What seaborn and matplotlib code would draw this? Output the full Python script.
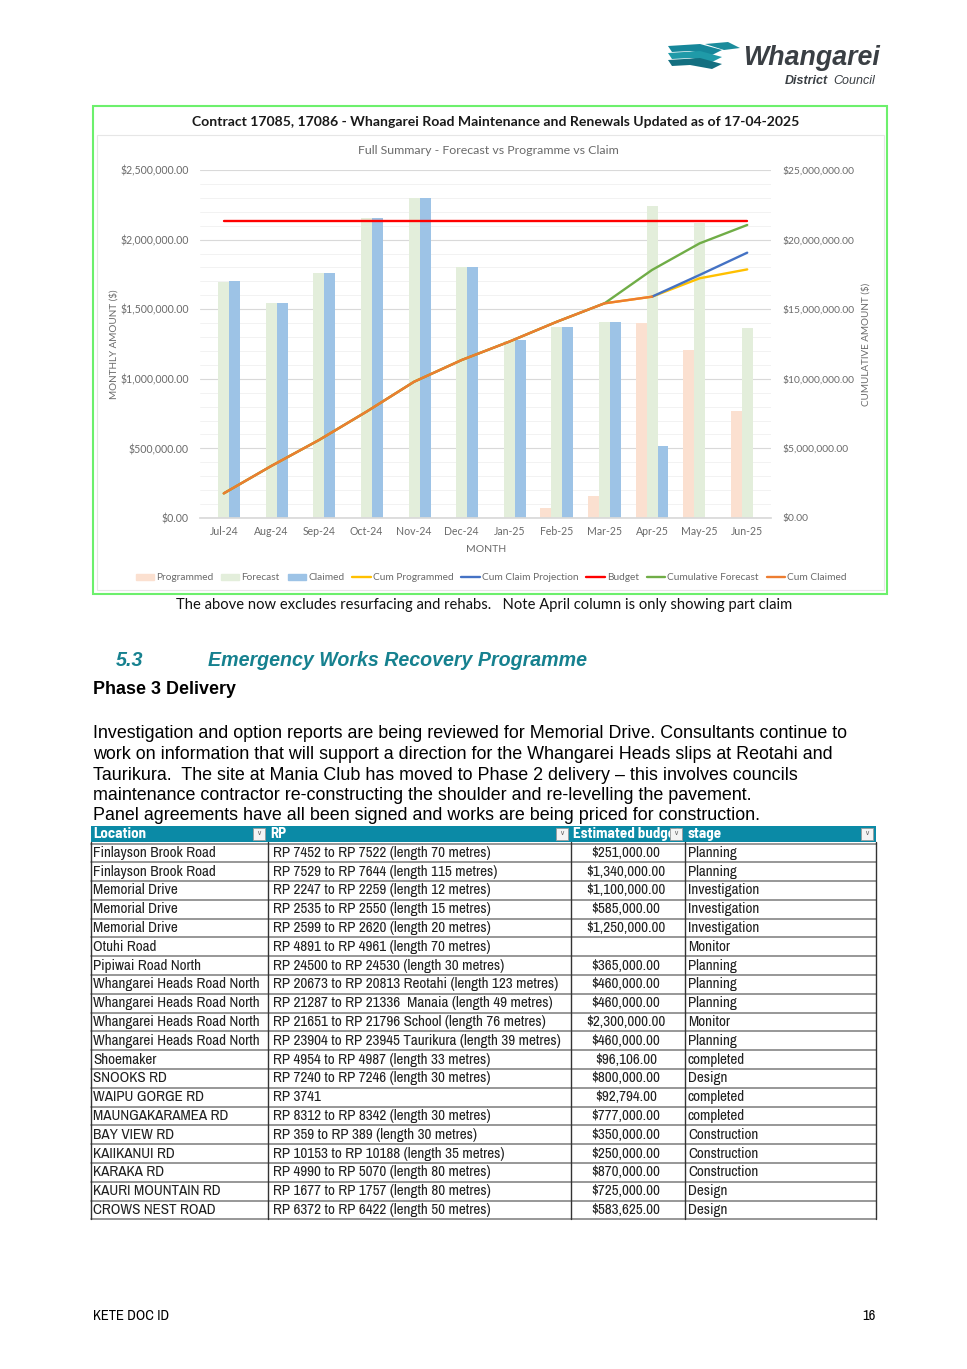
import numpy as np
import pandas as pd
import matplotlib
matplotlib.use("Agg")
import matplotlib.pyplot as plt
import seaborn as sns
from matplotlib.patches import Rectangle, Polygon, Patch
from matplotlib.lines import Line2D
from matplotlib.ticker import FuncFormatter, MultipleLocator
from matplotlib import font_manager

# page size in pixels
W, H = 967, 1369

# chart data
months = ["Jul-24", "Aug-24", "Sep-24", "Oct-24", "Nov-24", "Dec-24",
          "Jan-25", "Feb-25", "Mar-25", "Apr-25", "May-25", "Jun-25"]
programmed = [0, 0, 0, 0, 0, 0, 0, 70000, 158000, 1403000, 1207000, 771000]
forecast = [1697000, 1542000, 1758000, 2153000, 2301000, 1805000,
            1270000, 1374000, 1410000, 2244000, 2117000, 1363000]
claimed = [1700000, 1542000, 1758000, 2153000, 2301000, 1805000,
           1279000, 1374000, 1410000, 520000, np.nan, np.nan]

cum_programmed = [1770000, 3740000, 5600000, 7640000, 9790000, 11350000,
                  12670000, 14100000, 15420000, 15900000, 17220000, 17860000]
cum_projection = [np.nan, np.nan, np.nan, np.nan, np.nan, np.nan,
                  np.nan, np.nan, np.nan, 15900000, 17460000, 19060000]
budget = [21340000, 21340000, 21340000, 21340000, 21340000, 21340000,
          21340000, 21340000, 21340000, 21340000, 21340000, 21340000]
cum_forecast = [1770000, 3740000, 5600000, 7640000, 9790000, 11350000,
                12670000, 14100000, 15420000, 17820000, 19730000, 21050000]
cum_claimed = [1770000, 3740000, 5600000, 7640000, 9790000, 11350000,
               12670000, 14100000, 15420000, 15900000, np.nan, np.nan]

# table data
locations = ["Finlayson Brook Road", "Finlayson Brook Road", "Memorial Drive", "Memorial Drive",
             "Memorial Drive", "Otuhi Road", "Pipiwai Road North", "Whangarei Heads Road North",
             "Whangarei Heads Road North", "Whangarei Heads Road North", "Whangarei Heads Road North",
             "Shoemaker", "SNOOKS RD", "WAIPU GORGE RD", "MAUNGAKARAMEA RD", "BAY VIEW RD",
             "KAIIKANUI RD", "KARAKA RD", "KAURI MOUNTAIN RD", "CROWS NEST ROAD"]
rps = ["RP 7452 to RP 7522 (length 70 metres)", "RP 7529 to RP 7644 (length 115 metres)",
       "RP 2247 to RP 2259 (length 12 metres)", "RP 2535 to RP 2550 (length 15 metres)",
       "RP 2599 to RP 2620 (length 20 metres)", "RP 4891 to RP 4961 (length 70 metres)",
       "RP 24500 to RP 24530 (length 30 metres)", "RP 20673 to RP 20813 Reotahi (length 123 metres)",
       "RP 21287 to RP 21336  Manaia (length 49 metres)", "RP 21651 to RP 21796 School (length 76 metres)",
       "RP 23904 to RP 23945 Taurikura (length 39 metres)", "RP 4954 to RP 4987 (length 33 metres)",
       "RP 7240 to RP 7246 (length 30 metres)", "RP 3741",
       "RP 8312 to RP 8342 (length 30 metres)", "RP 359 to RP 389 (length 30 metres)",
       "RP 10153 to RP 10188 (length 35 metres)", "RP 4990 to RP 5070 (length 80 metres)",
       "RP 1677 to RP 1757 (length 80 metres)", "RP 6372 to RP 6422 (length 50 metres)"]
budgets = ["$251,000.00", "$1,340,000.00", "$1,100,000.00", "$585,000.00", "$1,250,000.00", "",
           "$365,000.00", "$460,000.00", "$460,000.00", "$2,300,000.00", "$460,000.00",
           "$96,106.00", "$800,000.00", "$92,794.00", "$777,000.00", "$350,000.00",
           "$250,000.00", "$870,000.00", "$725,000.00", "$583,625.00"]
stages = ["Planning", "Planning", "Investigation", "Investigation", "Investigation", "Monitor",
          "Planning", "Planning", "Planning", "Monitor", "Planning", "completed", "Design",
          "completed", "completed", "Construction", "Construction", "Construction", "Design",
          "Design"]

paragraph = [
    "Investigation and option reports are being reviewed for Memorial Drive. Consultants continue to",
    "work on information that will support a direction for the Whangarei Heads slips at Reotahi and",
    "Taurikura.  The site at Mania Club has moved to Phase 2 delivery \u2013 this involves councils",
    "maintenance contractor re-constructing the shoulder and re-levelling the pavement.",
    "Panel agreements have all been signed and works are being priced for construction.",
]

sns.set_theme(style="white")
plt.rcParams["font.family"] = ["Liberation Sans", "DejaVu Sans"]

avail = {f.name for f in font_manager.fontManager.ttflist}
NARROW = "Archivo Narrow" if "Archivo Narrow" in avail else "Liberation Sans"
HEAD_FONT = "Barlow Semi Condensed" if "Barlow Semi Condensed" in avail else NARROW
CHART_FONT = "Lato"

fig = plt.figure(figsize=(W / 100, H / 100), dpi=100)
fig.patch.set_facecolor("white")

# background axes in pixel coords
bg = fig.add_axes([0, 0, 1, 1])
bg.set_xlim(0, W)
bg.set_ylim(H, 0)
bg.axis("off")

# logo
teal = "#1b8c9c"
for dy, shade in [(0, "#16879a"), (7, "#1f9aa8"), (14, "#136f80")]:
    bg.add_patch(Polygon([(668, 46 + dy), (700, 44 + dy), (722, 50 + dy), (712, 55 + dy),
                          (690, 51 + dy), (672, 52 + dy)], closed=True, color=shade, lw=0))
bg.add_patch(Polygon([(705, 44), (728, 42), (740, 48), (724, 50)], closed=True, color=teal, lw=0))
bg.text(743, 58, "Whangarei", fontsize=19.3, fontweight="bold", style="italic",
        color="#3a3f44", va="center", ha="left")
bg.text(785, 81, "District", fontsize=9, fontweight="bold", style="italic",
        color="#3a3f44", va="center", ha="left")
bg.text(833, 81, "Council", fontsize=9, style="italic", color="#3a3f44", va="center", ha="left")

# chart frame
bg.add_patch(Rectangle((93, 106), 794, 488, fill=False, edgecolor="#6cf06c", lw=1.5))
bg.add_patch(Rectangle((97, 135), 787, 455, fill=False, edgecolor="#e6e6e6", lw=0.8))
bg.text(496, 122, "Contract 17085, 17086 - Whangarei Road Maintenance and Renewals Updated as of 17-04-2025",
        fontsize=10.1, fontweight="bold", family=CHART_FONT, color="#1a1a1a", ha="center", va="center")
bg.text(488, 150, "Full Summary - Forecast vs Programme vs Claim", fontsize=8.9,
        family=CHART_FONT, color="#6a6a6a", ha="center", va="center")
bg.text(114, 344, "MONTHLY AMOUNT ($)", fontsize=7.1, family=CHART_FONT, color="#6a6a6a",
        rotation=90, ha="center", va="center")
bg.text(866, 344, "CUMULATIVE AMOUNT ($)", fontsize=7.1, family=CHART_FONT, color="#6a6a6a",
        rotation=90, ha="center", va="center")
bg.text(486, 550, "MONTH", fontsize=7.5, family=CHART_FONT, color="#6a6a6a", ha="center", va="center")

bg.text(484, 605, "The above now excludes resurfacing and rehabs.   Note April column is only showing part claim",
        fontsize=10.6, family=CHART_FONT, color="#111111", ha="center", va="center")

# heading and paragraph
head_col = "#16818f"
bg.text(116, 661, "5.3", fontsize=14.2, fontweight="bold", style="italic", color=head_col, va="center")
bg.text(208, 661, "Emergency Works Recovery Programme", fontsize=14.1, fontweight="bold",
        style="italic", color=head_col, va="center")
bg.text(93, 689, "Phase 3 Delivery", fontsize=12.9, fontweight="bold", color="black", va="center")
for i, line in enumerate(paragraph):
    bg.text(93, 734 + i * 20.5, line, fontsize=12.9, color="black", va="center")

# table
col_x = [91, 268, 571, 685, 876]
head_top, head_bot = 826, 842
row_h = 18.79
row_top = 843.5
bg.add_patch(Rectangle((col_x[0], head_top), col_x[-1] - col_x[0], head_bot - head_top,
                       color="#0b8aa6", lw=0, zorder=2))
headers = ["Location", "RP", "Estimated budget", "stage"]
for j, hname in enumerate(headers):
    t = bg.text(col_x[j] + 2, (head_top + head_bot) / 2, hname, fontsize=10.8, family=HEAD_FONT,
                fontweight="bold", color="white", va="center", ha="left", zorder=3)
    clip = Rectangle((col_x[j], head_top), col_x[j + 1] - col_x[j] - 14, head_bot - head_top,
                     transform=bg.transData)
    t.set_clip_path(clip)
    bx = col_x[j + 1] - 15
    bg.add_patch(Rectangle((bx, head_top + 2), 12, 12, facecolor="#f4f4f4",
                           edgecolor="#9a9a9a", lw=0.6, zorder=4))
    bg.text(bx + 6, head_top + 7.5, "\u2228", fontsize=5, color="#666666", ha="center",
            va="center", zorder=5)

n_rows = len(locations)
fs = 10.9
for i in range(n_rows):
    yc = row_top + (i + 0.5) * row_h
    bg.text(col_x[0] + 2, yc, locations[i], fontsize=fs, family=NARROW, color="#202020", va="center")
    bg.text(col_x[1] + 5, yc, rps[i], fontsize=fs, family=NARROW, color="#202020", va="center")
    bg.text(626, yc, budgets[i], fontsize=fs, family=NARROW, color="#202020", va="center", ha="center")
    bg.text(col_x[3] + 3, yc, stages[i], fontsize=fs, family=NARROW, color="#202020", va="center")
for i in range(n_rows + 1):
    yy = row_top + i * row_h
    bg.plot([col_x[0], col_x[-1]], [yy, yy], color="#7a7a7a", lw=1.1, zorder=2)
for xx in col_x:
    bg.plot([xx, xx], [head_bot, row_top + n_rows * row_h], color="#333333", lw=1.0, zorder=2)

# footer
bg.text(93, 1316, "KETE DOC ID", fontsize=10.5, family=NARROW, color="black", va="center")
bg.text(876, 1316, "16", fontsize=10.5, family=NARROW, color="black", va="center", ha="right")

# chart axes
ax = fig.add_axes([200 / W, 1 - 518 / H, 571 / W, 348 / H])
bar_series = ["Programmed", "Forecast", "Claimed"]
bar_colors = ["#fbe0d0", "#e3eedb", "#9dc3e6"]
bars_df = pd.DataFrame({
    "month": months * 3,
    "series": [s for s in bar_series for _ in months],
    "value": programmed + forecast + claimed,
})
sns.barplot(data=bars_df, x="month", y="value", hue="series", order=months,
            hue_order=bar_series, palette=bar_colors, width=0.69, saturation=1,
            errorbar=None, legend=False, linewidth=0, ax=ax)
ax.set_xlim(-0.5, len(months) - 0.5)
ax.set_ylim(0, 2500000)
ax.yaxis.set_major_locator(MultipleLocator(500000))
ax.yaxis.set_minor_locator(MultipleLocator(100000))
ax.yaxis.set_major_formatter(FuncFormatter(lambda v, p: f"${v:,.2f}"))
ax.grid(True, axis="y", which="major", color="#d9d9d9", lw=0.8)
ax.grid(True, axis="y", which="minor", color="#f0f0f0", lw=0.6)
ax.set_axisbelow(True)
for s in ["top", "left", "right"]:
    ax.spines[s].set_visible(False)
ax.spines["bottom"].set_color("#d9d9d9")
ax.set_xlabel("")
ax.set_ylabel("")
ax.tick_params(axis="both", which="both", length=0, labelsize=7.6, labelcolor="#6a6a6a")
ax.tick_params(axis="y", pad=8)
ax.tick_params(axis="x", pad=6)
for lab in ax.get_xticklabels() + ax.get_yticklabels():
    lab.set_family(CHART_FONT)

ax2 = ax.twinx()
xpos = np.arange(len(months))
line_specs = [
    ("Cum Programmed", cum_programmed, "#ffc000"),
    ("Cum Claim Projection", cum_projection, "#4472c4"),
    ("Budget", budget, "#ff0000"),
    ("Cumulative Forecast", cum_forecast, "#70ad47"),
    ("Cum Claimed", cum_claimed, "#ed7d31"),
]
for name, vals, col in line_specs:
    sns.lineplot(x=xpos, y=vals, ax=ax2, color=col, linewidth=1.7, legend=False)
ax2.set_ylim(0, 25000000)
ax2.yaxis.set_major_locator(MultipleLocator(5000000))
ax2.yaxis.set_major_formatter(FuncFormatter(lambda v, p: f"${v:,.2f}"))
ax2.set_ylabel("")
ax2.grid(False)
for s in ["top", "left", "right", "bottom"]:
    ax2.spines[s].set_visible(False)
ax2.tick_params(axis="y", length=0, labelsize=7.4, labelcolor="#6a6a6a", pad=8)
for lab in ax2.get_yticklabels():
    lab.set_family(CHART_FONT)

handles = [Patch(color=c) for c in bar_colors] + \
          [Line2D([0], [0], color=c, lw=1.7) for _, _, c in line_specs]
labels = bar_series + [n for n, _, _ in line_specs]
leg = fig.legend(handles, labels, loc="center", bbox_to_anchor=(491 / W, 1 - 578 / H), ncol=8,
                 frameon=False, handlelength=1.8, handleheight=0.6,
                 handletextpad=0.2, columnspacing=0.8, labelcolor="#6a6a6a",
                 prop={"family": CHART_FONT, "size": 7.3})

fig.savefig("out.png", dpi=100)
